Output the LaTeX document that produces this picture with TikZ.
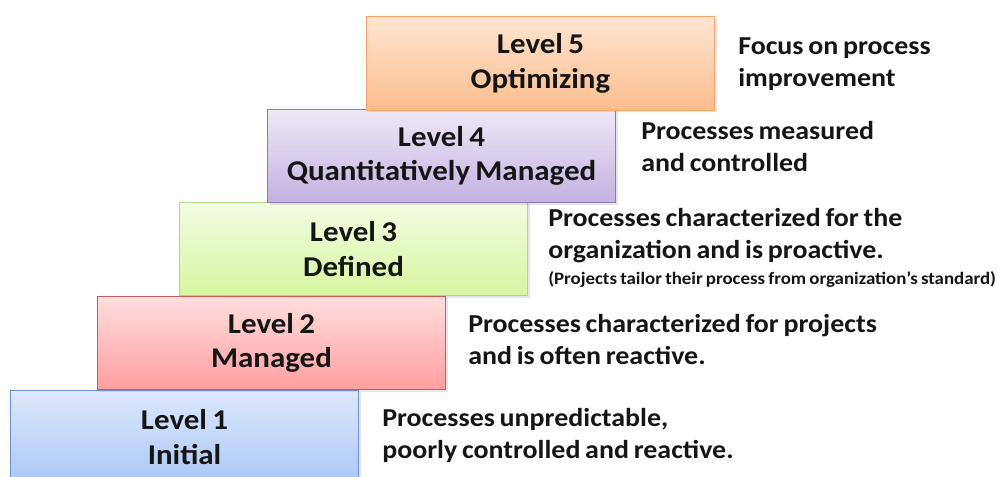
\documentclass[tikz,border=0pt]{standalone}
\usepackage{fontspec}
\setmainfont{Carlito}[FakeStretch=1.08, WordSpace=0.75]
\usepackage{tikz}
\usetikzlibrary{shadows}

\definecolor{topA}{HTML}{DDE9FD}\definecolor{botA}{HTML}{A9C7F6}\definecolor{lineA}{HTML}{6A93CD}
\definecolor{topB}{HTML}{FFDEDE}\definecolor{botB}{HTML}{FF9E9E}\definecolor{lineB}{HTML}{CC5C5C}
\definecolor{topC}{HTML}{F3FCE3}\definecolor{botC}{HTML}{D6F5A0}\definecolor{lineC}{HTML}{B3D68A}
\definecolor{topD}{HTML}{EEE8F7}\definecolor{botD}{HTML}{C4B1E1}\definecolor{lineD}{HTML}{8E78B8}
\definecolor{topE}{HTML}{FDE5D2}\definecolor{botE}{HTML}{FBBD8C}\definecolor{lineE}{HTML}{F5A565}
\definecolor{ink}{HTML}{151515}

\begin{document}
\begin{tikzpicture}[x=0.75pt, y=-0.75pt, text=ink,
    level/.style = {draw, line width=0.8pt, minimum width=261pt, minimum height=70pt,
        align=center, font=\fontsize{21.5}{26}\selectfont\bfseries,
        drop shadow={shadow xshift=1.5pt, shadow yshift=-1.5pt, opacity=0.2}},
    desc/.style = {anchor=west, inner sep=0pt, align=left, font=\fontsize{19.4}{24}\selectfont\bfseries}]
% page: 997 x 477 px, y runs downwards
    \clip (0,0) rectangle (997,477);

    \node[level, top color=topA, bottom color=botA, draw=lineA] (1) at (184.5,437) {Level 1\\Initial};
    \node[level, top color=topB, bottom color=botB, draw=lineB] (2) at (271.5,343) {Level 2\\Managed};
    \node[level, top color=topC, bottom color=botC, draw=lineC] (3) at (353.5,249) {Level 3\\Defined};
    \node[level, top color=topD, bottom color=botD, draw=lineD] (4) at (441.5,156) {Level 4\\Quantitatively Managed};
    \node[level, top color=topE, bottom color=botE, draw=lineE] (5) at (540.5,63.5) {Level 5\\Optimizing};

    \node[desc] (t1) at (382,435) {Processes unpredictable,\\poorly controlled and reactive.};
    \node[desc] (t2) at (468,340) {Processes characterized for projects\\and is often reactive.};
    \node[desc] (t3) at (548,236) {Processes characterized for the\\organization and is proactive.};
    \node[desc, font=\fontsize{13.1}{14}\selectfont\bfseries] (t3b) at (548,279)
        {(Projects tailor their process from organization’s standard)};
    \node[desc] (t4) at (641,147) {Processes measured\\and controlled};
    \node[desc] (t5) at (738,64) {Focus on process\\improvement};
\end{tikzpicture}
\end{document}
